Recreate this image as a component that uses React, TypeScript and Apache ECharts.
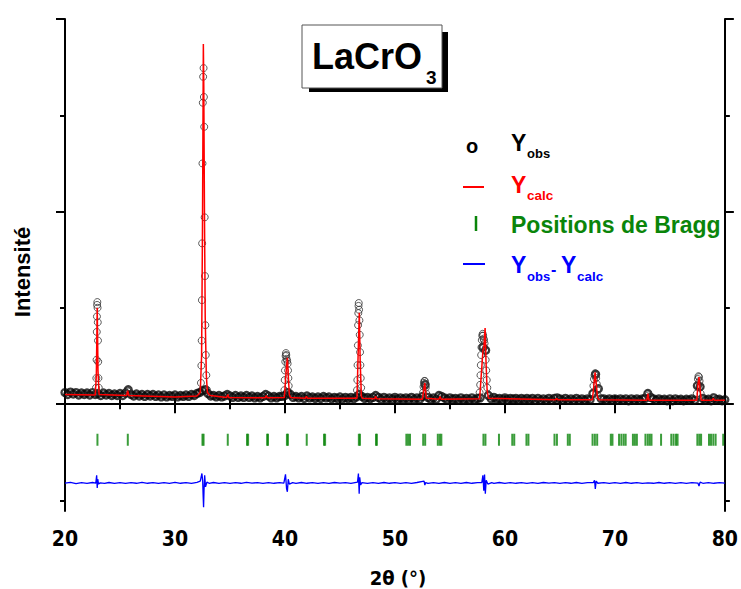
import React, { useEffect, useRef } from "react";
import * as echarts from "echarts";

// ---------- data ----------
const xTickLabels = [20, 30, 40, 50, 60, 70, 80];

// observed intensity, baseline sampled every 0.25° from 20° to 80°
const obsStart = 20;
const obsStep = 0.25;
const obsBaseline = [
  0.12, 0.1, 0.125, 0.105,
  0.12, 0.095, 0.115, 0.1,
  0.115, 0.095, 0.12, 0.1,
  0.11, 0.09, 0.115, 0.095,
  0.11, 0.09, 0.105, 0.09,
  0.11, 0.09, 0.115, 0.15,
  0.1, 0.085, 0.105, 0.085,
  0.1, 0.08, 0.1, 0.085,
  0.1, 0.08, 0.095, 0.075,
  0.095, 0.075, 0.09, 0.08,
  0.095, 0.075, 0.09, 0.08,
  0.095, 0.08, 0.1, 0.09,
  0.11, 0.12, 0.14, 0.15,
  0.11, 0.085, 0.09, 0.075,
  0.09, 0.075, 0.085, 0.1,
  0.085, 0.07, 0.09, 0.07,
  0.085, 0.07, 0.09, 0.07,
  0.085, 0.065, 0.08, 0.065,
  0.08, 0.1, 0.085, 0.065,
  0.08, 0.065, 0.08, 0.08,
  0.09, 0.12, 0.1, 0.07,
  0.08, 0.065, 0.08, 0.06,
  0.085, 0.065, 0.075, 0.06,
  0.075, 0.06, 0.08, 0.065,
  0.075, 0.055, 0.07, 0.06,
  0.075, 0.055, 0.07, 0.055,
  0.07, 0.055, 0.075, 0.1,
  0.08, 0.06, 0.07, 0.055,
  0.07, 0.09, 0.07, 0.05,
  0.07, 0.05, 0.065, 0.05,
  0.07, 0.05, 0.065, 0.05,
  0.065, 0.05, 0.07, 0.05,
  0.065, 0.05, 0.08, 0.2,
  0.07, 0.05, 0.065, 0.05,
  0.09, 0.08, 0.065, 0.045,
  0.065, 0.05, 0.06, 0.045,
  0.065, 0.045, 0.06, 0.045,
  0.065, 0.045, 0.06, 0.065,
  0.59, 0.56, 0.09, 0.055,
  0.07, 0.05, 0.06, 0.045,
  0.065, 0.045, 0.06, 0.05,
  0.06, 0.045, 0.06, 0.045,
  0.06, 0.045, 0.06, 0.04,
  0.06, 0.04, 0.055, 0.04,
  0.06, 0.04, 0.06, 0.065,
  0.055, 0.04, 0.06, 0.04,
  0.055, 0.04, 0.06, 0.04,
  0.055, 0.04, 0.055, 0.045,
  0.11, 0.31, 0.16, 0.055,
  0.055, 0.04, 0.055, 0.04,
  0.055, 0.04, 0.055, 0.04,
  0.055, 0.035, 0.055, 0.04,
  0.055, 0.04, 0.055, 0.06,
  0.11, 0.07, 0.055, 0.04,
  0.055, 0.04, 0.05, 0.035,
  0.055, 0.035, 0.055, 0.04,
  0.05, 0.035, 0.05, 0.04,
  0.055, 0.04, 0.19, 0.18,
  0.06, 0.04, 0.05, 0.035,
  0.065, 0.045, 0.05, 0.035,
  0.045,
];

// observed points on the diffraction peaks [2θ, intensity]
const obsPeaks: [number, number][] = [
  [22.82, 0.17], [22.85, 0.27], [22.87, 0.46], [22.89, 0.75], [22.905, 0.91], [22.92, 1.03],
  [22.94, 1.06], [22.96, 1.0], [22.98, 0.85], [23.0, 0.66], [23.02, 0.44], [23.04, 0.27], [23.07, 0.17],
  [25.68, 0.14], [25.74, 0.13],
  [32.36, 0.22], [32.4, 0.4], [32.43, 0.66], [32.45, 1.08], [32.47, 1.67], [32.5, 2.5],
  [32.53, 3.13], [32.56, 3.4], [32.6, 3.49], [32.63, 3.19], [32.66, 2.88], [32.7, 1.94],
  [32.73, 1.33], [32.76, 0.82], [32.8, 0.51], [32.85, 0.3], [32.9, 0.15],
  [34.78, 0.1], [38.28, 0.1],
  [39.95, 0.145], [39.98, 0.25], [40.0, 0.35], [40.03, 0.44], [40.06, 0.5], [40.09, 0.53],
  [40.12, 0.51], [40.15, 0.47], [40.2, 0.45], [40.24, 0.42], [40.28, 0.35], [40.31, 0.27],
  [40.34, 0.19], [40.38, 0.12],
  [41.92, 0.08],
  [46.55, 0.145], [46.58, 0.25], [46.6, 0.405], [46.63, 0.61], [46.65, 0.82], [46.67, 0.945],
  [46.69, 1.02], [46.71, 1.05], [46.74, 0.98], [46.77, 0.87], [46.8, 0.72], [46.83, 0.54],
  [46.86, 0.405], [46.89, 0.27], [46.93, 0.17],
  [48.22, 0.09],
  [52.55, 0.12], [52.6, 0.18], [52.64, 0.22], [52.68, 0.24], [52.72, 0.24], [52.76, 0.21],
  [52.8, 0.17], [52.85, 0.11],
  [54.08, 0.09],
  [57.7, 0.12], [57.75, 0.2], [57.78, 0.3], [57.81, 0.405], [57.84, 0.51], [57.87, 0.59],
  [57.9, 0.665], [57.94, 0.71], [57.98, 0.73], [58.02, 0.71], [58.06, 0.68], [58.1, 0.665],
  [58.15, 0.63], [58.2, 0.56], [58.25, 0.46], [58.3, 0.35], [58.35, 0.25], [58.4, 0.17], [58.47, 0.1],
  [64.7, 0.06],
  [68.0, 0.11], [68.05, 0.19], [68.1, 0.26], [68.15, 0.3], [68.2, 0.32], [68.25, 0.31],
  [68.3, 0.27], [68.35, 0.21], [68.4, 0.145], [68.45, 0.09],
  [72.98, 0.11], [73.05, 0.09],
  [77.45, 0.11], [77.5, 0.19], [77.55, 0.26], [77.6, 0.29], [77.65, 0.28], [77.7, 0.24],
  [77.75, 0.18], [77.8, 0.11],
  [78.92, 0.07],
];

// calculated profile [2θ, intensity]
const calcCurve: [number, number][] = [
  [20, 0.1], [22.75, 0.095], [22.85, 0.3], [22.93, 1.0], [23.0, 0.35], [23.1, 0.1],
  [25.6, 0.09], [25.7, 0.14], [25.8, 0.09], [30, 0.075], [32.0, 0.085],
  [32.3, 0.12], [32.42, 0.5], [32.5, 1.8], [32.58, 3.74], [32.62, 3.3], [32.68, 2.0],
  [32.75, 0.9], [32.85, 0.3], [32.95, 0.12], [33.2, 0.09],
  [34.7, 0.07], [34.8, 0.1], [34.9, 0.07], [38.2, 0.065], [38.3, 0.09], [38.4, 0.065],
  [39.95, 0.07], [40.05, 0.25], [40.15, 0.4], [40.22, 0.48], [40.3, 0.3], [40.4, 0.1], [40.5, 0.07],
  [41.85, 0.06], [41.95, 0.08], [42.05, 0.06],
  [46.55, 0.06], [46.65, 0.5], [46.76, 0.95], [46.84, 0.45], [46.95, 0.08], [47.05, 0.06],
  [48.15, 0.055], [48.25, 0.08], [48.35, 0.055],
  [52.5, 0.05], [52.62, 0.15], [52.72, 0.22], [52.85, 0.06],
  [54.0, 0.05], [54.1, 0.08], [54.2, 0.05],
  [57.7, 0.055], [57.85, 0.3], [58.0, 0.55], [58.1, 0.6], [58.2, 0.79], [58.28, 0.45],
  [58.38, 0.15], [58.5, 0.06],
  [64.6, 0.045], [64.7, 0.06], [64.8, 0.045],
  [67.95, 0.045], [68.08, 0.18], [68.2, 0.33], [68.3, 0.22], [68.42, 0.07], [68.55, 0.045],
  [72.9, 0.04], [73.0, 0.11], [73.1, 0.04],
  [77.45, 0.04], [77.55, 0.2], [77.65, 0.28], [77.75, 0.15], [77.85, 0.04],
  [78.85, 0.04], [78.95, 0.06], [79.05, 0.04], [80, 0.04],
];

// Bragg reflection positions (2θ)
const braggPositions = [
  22.95, 25.71, 32.5, 32.6, 34.8, 36.55, 36.65, 38.38, 38.46, 40.18, 40.27, 41.98,
  43.55, 43.65, 46.72, 46.82, 48.28, 48.36,
  51.04, 51.2, 51.37, 52.57, 52.75, 53.9, 54.08, 54.22, 58.05, 58.23, 59.46,
  60.67, 60.85, 61.96, 62.14, 64.51, 64.73, 65.72, 65.9, 67.97, 68.18, 68.39,
  69.63, 69.78, 70.38, 70.59, 70.8, 70.98, 71.64, 71.82, 72.0, 72.78, 72.99, 73.17, 73.33,
  74.2, 75.13, 75.34, 75.56, 75.7, 77.5, 77.68, 77.84, 78.56, 78.74, 78.95, 79.16, 79.85,
];
const braggLevel = -0.37;

// difference curve Yobs - Ycalc (drawn with its offset)
const diffCurve: [number, number][] = [
  [20, -0.82], [20.5, -0.812], [21, -0.825], [21.5, -0.815], [22, -0.822], [22.5, -0.814],
  [22.8, -0.82], [22.88, -0.74], [22.93, -0.87], [22.98, -0.78], [23.05, -0.83], [23.2, -0.818],
  [23.6, -0.824], [24, -0.814], [24.5, -0.822], [25, -0.815], [25.5, -0.823], [26, -0.816],
  [26.5, -0.822], [27, -0.813], [27.5, -0.822], [28, -0.816], [28.5, -0.824], [29, -0.815],
  [29.5, -0.822], [30, -0.812], [30.5, -0.822], [31, -0.816], [31.5, -0.824], [32, -0.812],
  [32.3, -0.8], [32.45, -0.72], [32.52, -0.8], [32.56, -0.95], [32.6, -1.07], [32.64, -0.9],
  [32.7, -0.74], [32.78, -0.86], [32.9, -0.81], [33.1, -0.822], [33.5, -0.814], [34, -0.822],
  [34.5, -0.815], [35, -0.823], [35.5, -0.816], [36, -0.822], [36.5, -0.813], [37, -0.821],
  [37.5, -0.815], [38, -0.823], [38.5, -0.815], [39, -0.822], [39.5, -0.816], [39.9, -0.82],
  [40.05, -0.73], [40.15, -0.88], [40.22, -0.91], [40.3, -0.78], [40.4, -0.83], [40.7, -0.815],
  [41, -0.822], [41.5, -0.814], [42, -0.822], [42.5, -0.816], [43, -0.823], [43.5, -0.815],
  [44, -0.822], [44.5, -0.814], [45, -0.821], [45.5, -0.815], [46, -0.823], [46.6, -0.81],
  [46.68, -0.72], [46.75, -0.93], [46.8, -0.76], [46.88, -0.84], [47, -0.815], [47.5, -0.823],
  [48, -0.815], [48.5, -0.822], [49, -0.814], [49.5, -0.822], [50, -0.816], [50.5, -0.823],
  [51, -0.815], [51.5, -0.822], [52, -0.814], [52.65, -0.8], [52.72, -0.84], [52.8, -0.815],
  [53, -0.823], [53.5, -0.815], [54, -0.822], [54.5, -0.814], [55, -0.823], [55.5, -0.815],
  [56, -0.822], [56.5, -0.814], [57, -0.822], [57.5, -0.816], [57.9, -0.815], [58.0, -0.74],
  [58.08, -0.9], [58.15, -0.73], [58.22, -0.93], [58.3, -0.79], [58.45, -0.83], [58.8, -0.815],
  [59, -0.822], [59.5, -0.814], [60, -0.823], [60.5, -0.815], [61, -0.822], [61.5, -0.816],
  [62, -0.823], [62.5, -0.815], [63, -0.822], [63.5, -0.814], [64, -0.821], [64.5, -0.815],
  [65, -0.823], [65.5, -0.816], [66, -0.822], [66.5, -0.814], [67, -0.822], [67.5, -0.815],
  [68.05, -0.815], [68.15, -0.79], [68.22, -0.88], [68.3, -0.8], [68.45, -0.822], [69, -0.815],
  [69.5, -0.823], [70, -0.815], [70.5, -0.822], [71, -0.814], [71.5, -0.822], [72, -0.816],
  [72.5, -0.823], [73, -0.818], [73.5, -0.822], [74, -0.814], [74.5, -0.822], [75, -0.816],
  [75.5, -0.823], [76, -0.815], [76.5, -0.822], [77, -0.815], [77.55, -0.82], [77.65, -0.85],
  [77.75, -0.81], [78, -0.822], [78.5, -0.815], [79, -0.822], [79.5, -0.816], [80, -0.82],
];

const yMin = -1.11;
const yMax = 4;
const yMajorTicks = [0, 2, 4];
const yMinorTicks = [-1, 1, 3];

// ---------- component ----------
const SANS = "'Liberation Sans', Arial, Helvetica, sans-serif";
const NARROW = "'Liberation Sans Narrow', 'Arial Narrow', 'DejaVu Sans Condensed', sans-serif";
const GREEN = "#0a850a";

function yAxisDef(position: "left" | "right", ticks: number[], len: number, showLine: boolean) {
  return {
    type: "value",
    min: yMin,
    max: yMax,
    position,
    axisLine: { show: showLine, lineStyle: { color: "#000", width: 2 } },
    axisTick: { show: true, length: len, customValues: ticks, lineStyle: { color: "#000", width: 2 } },
    axisLabel: { show: false },
    splitLine: { show: false },
  };
}

function xAxisDef(position: "top" | "bottom", showLabels: boolean) {
  return {
    type: "value",
    min: 20,
    max: 80,
    interval: 10,
    position,
    axisLine: { show: true, lineStyle: { color: "#000", width: 2 } },
    axisTick: { show: true, length: 9, lineStyle: { color: "#000", width: 2 } },
    minorTick: { show: true, splitNumber: 2, length: 5, lineStyle: { color: "#000", width: 2 } },
    axisLabel: {
      show: showLabels,
      fontSize: 21,
      fontWeight: "bold",
      fontFamily: NARROW,
      color: "#000",
      margin: 17,
      formatter: (v: number) => (xTickLabels.includes(v) ? String(v) : ""),
    },
    splitLine: { show: false },
    minorSplitLine: { show: false },
  };
}

function txt(text: string, x: number, y: number, size: number, color: string, family = SANS, align = "left") {
  return {
    type: "text",
    x,
    y,
    z: 100,
    style: {
      text,
      fill: color,
      font: `bold ${size}px ${family}`,
      textAlign: align,
      textVerticalAlign: "middle",
    },
  };
}

export default function App() {
  const ref = useRef<HTMLDivElement>(null);

  useEffect(() => {
    if (!ref.current) return;
    const chart = echarts.init(ref.current, undefined, { renderer: "svg" });

    const baselineData = obsBaseline.map((v, i) => [obsStart + i * obsStep, v]);

    chart.setOption({
      animation: false,
      backgroundColor: "#fff",
      grid: { left: 65, right: 11, top: 19, bottom: 78, containLabel: false },
      xAxis: [xAxisDef("bottom", true), xAxisDef("top", false)],
      yAxis: [
        yAxisDef("left", yMajorTicks, 9, true),
        yAxisDef("left", yMinorTicks, 5, false),
        yAxisDef("right", yMajorTicks, 9, true),
        yAxisDef("right", yMinorTicks, 5, false),
      ],
      series: [
        {
          name: "Yobs",
          type: "scatter",
          data: baselineData,
          symbol: "circle",
          symbolSize: 7,
          itemStyle: { color: "rgba(0,0,0,0)", borderColor: "#0a0a0a", borderWidth: 2.3 },
          silent: true,
          z: 2,
        },
        {
          name: "Yobs peaks",
          type: "scatter",
          data: obsPeaks,
          symbol: "circle",
          symbolSize: 7,
          itemStyle: { color: "rgba(0,0,0,0)", borderColor: "#333", borderWidth: 1 },
          silent: true,
          z: 2,
        },
        {
          name: "Ycalc",
          type: "line",
          data: calcCurve,
          showSymbol: false,
          lineStyle: { color: "#ff0000", width: 1.5 },
          silent: true,
          z: 3,
        },
        {
          name: "Bragg",
          type: "scatter",
          data: braggPositions.map((p) => [p, braggLevel]),
          symbol: "rect",
          symbolSize: [2, 12],
          itemStyle: { color: GREEN },
          silent: true,
          z: 2,
        },
        {
          name: "Yobs-Ycalc",
          type: "line",
          data: diffCurve,
          showSymbol: false,
          lineStyle: { color: "#0000ff", width: 1.3 },
          silent: true,
          z: 2,
        },
      ],
      graphic: [
        // title box with shadow
        { type: "rect", z: 90, shape: { x: 309, y: 32, width: 139, height: 60 }, style: { fill: "#000" } },
        {
          type: "rect",
          z: 91,
          shape: { x: 302, y: 25, width: 140, height: 63 },
          style: { fill: "#fff", stroke: "#555", lineWidth: 1 },
        },
        txt("LaCrO", 312, 56, 36, "#000"),
        txt("3", 426, 77, 19, "#000"),
        // legend
        txt("o", 466, 145.5, 20, "#000"),
        txt("Y", 511, 142.5, 23, "#000"),
        txt("obs", 527, 153.5, 13, "#000"),
        { type: "line", z: 100, shape: { x1: 463, y1: 187, x2: 484, y2: 187 }, style: { stroke: "#ff0000", lineWidth: 2 } },
        txt("Y", 511, 185, 23, "#ff0000"),
        txt("calc", 527, 195.5, 13.5, "#ff0000"),
        { type: "line", z: 100, shape: { x1: 476, y1: 216, x2: 476, y2: 231 }, style: { stroke: GREEN, lineWidth: 2.5 } },
        txt("Positions de Bragg", 511, 224.5, 23, GREEN),
        { type: "line", z: 100, shape: { x1: 463, y1: 264, x2: 485, y2: 264 }, style: { stroke: "#0000ff", lineWidth: 2 } },
        txt("Y", 511, 265, 23, "#0000ff"),
        txt("obs", 527, 276, 13, "#0000ff"),
        txt("-", 551, 269, 16, "#0000ff"),
        txt("Y", 561, 265, 23, "#0000ff"),
        txt("calc", 577, 276, 13.5, "#0000ff"),
        // axis titles
        txt("2θ (°)", 398, 577.5, 20, "#000", NARROW, "center"),
        {
          type: "text",
          x: 22,
          y: 272,
          rotation: Math.PI / 2,
          z: 100,
          style: {
            text: "Intensité",
            fill: "#000",
            font: `bold 22px ${SANS}`,
            textAlign: "center",
            textVerticalAlign: "middle",
          },
        },
      ],
    });

    return () => chart.dispose();
  }, []);

  return (
    <div
      ref={ref}
      style={{ position: "fixed", left: 0, top: 0, width: 741, height: 589, background: "#fff" }}
    />
  );
}
